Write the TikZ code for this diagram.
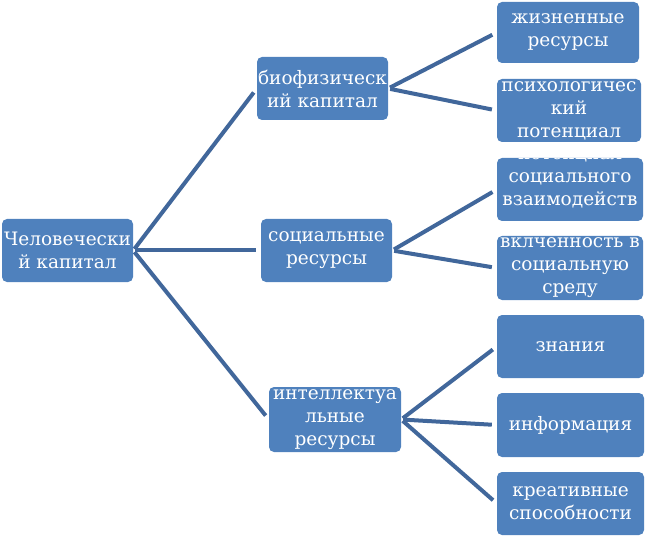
\documentclass[tikz,border=0pt]{standalone}
\usepackage{fontspec}
\newfontfamily\serifru{DejaVu Serif}
\definecolor{boxblue}{HTML}{4F81BD}
\definecolor{linkblue}{HTML}{41679B}
\newcommand{\mybox}[6]{%
  \node[box, minimum width=#4pt, minimum height=#5pt,
    path picture={\node[txt] (#1-t) at (path picture bounding box.center) {#6};}] (#1) at (#2,#3) {};}
\begin{document}
\begin{tikzpicture}[x=1pt,y=-1pt,
  box/.style={fill=boxblue, rounded corners=5pt, inner sep=0pt},
  txt/.style={text=white, align=center, font=\serifru\fontsize{18.5}{23}\selectfont, inner sep=0pt},
  link/.style={draw=linkblue, line width=4pt, shorten <=2pt, shorten >=5pt}]
\useasboundingbox (0,0) rectangle (650,537);
\mybox{root}{67.5}{250.5}{131}{63}{Человечески\\й капитал}
\mybox{bio}{322.5}{88.5}{131}{63}{биофизическ\\ий капитал}
\mybox{soc}{326.5}{250.5}{131}{63}{социальные\\ресурсы}
\mybox{int}{335}{419.5}{132}{65}{интеллектуа\\льные\\ресурсы}
\mybox{zh}{568}{32.5}{142}{61}{жизненные\\ресурсы}
\mybox{ps}{569}{110.5}{144}{63}{психологичес\\кий\\потенциал}
\mybox{pv}{570}{189.5}{146}{63}{потенциал\\социального\\взаимодейств\\\phantom{ия}}
\mybox{vk}{570}{268}{146}{64}{вклченность в\\социальную\\среду}
\mybox{zn}{570.5}{346.5}{147}{63}{знания}
\mybox{inf}{570.5}{425}{147}{64}{информация}
\mybox{kr}{570.5}{503.5}{147}{63}{креативные\\способности}
\draw[link] (root.east) -- (bio.west);
\draw[link] (root.east) -- (soc.west);
\draw[link] (root.east) -- (int.west);
\draw[link] (bio.east) -- (zh.west);
\draw[link] (bio.east) -- (ps.west);
\draw[link] (soc.east) -- (pv.west);
\draw[link] (soc.east) -- (vk.west);
\draw[link] (int.east) -- (zn.west);
\draw[link] (int.east) -- (inf.west);
\draw[link] (int.east) -- (kr.west);
\end{tikzpicture}
\end{document}
